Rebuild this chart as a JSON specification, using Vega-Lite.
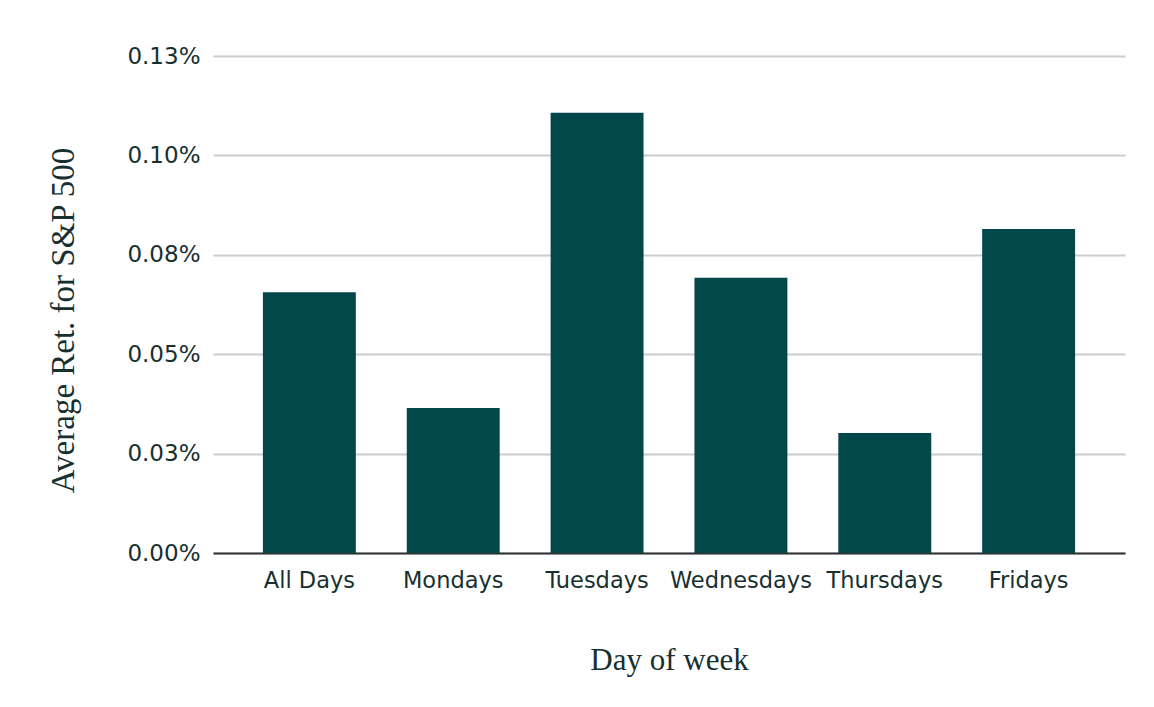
{
  "$schema": "https://vega.github.io/schema/vega-lite/v6.json",
  "autosize": {"type": "none"},
  "padding": {"left": 213, "top": 56, "right": 29, "bottom": 154},
  "width": 912,
  "height": 497,
  "background": "#ffffff",
  "data": {
    "values": [
      {"day": "All Days", "ret": 0.0656},
      {"day": "Mondays", "ret": 0.0365},
      {"day": "Tuesdays", "ret": 0.1107},
      {"day": "Wednesdays", "ret": 0.0692},
      {"day": "Thursdays", "ret": 0.0302},
      {"day": "Fridays", "ret": 0.0815}
    ]
  },
  "mark": {"type": "bar", "color": "#02484b"},
  "encoding": {
    "x": {
      "field": "day",
      "type": "nominal",
      "sort": null,
      "title": "Day of week",
      "scale": {"paddingInner": 0.354, "paddingOuter": 0.347},
      "axis": {
        "labelAngle": 0,
        "labelFont": "DejaVu Sans",
        "labelFontSize": 22.5,
        "labelColor": "#17302f",
        "labelPadding": 16,
        "ticks": false,
        "domainColor": "#333333",
        "domainWidth": 2,
        "titleFont": "Liberation Serif",
        "titleFontSize": 31,
        "titleFontWeight": "normal",
        "titleColor": "#17302f",
        "titlePadding": 54
      }
    },
    "y": {
      "field": "ret",
      "type": "quantitative",
      "title": "Average Ret. for S&P 500",
      "scale": {"domain": [0, 0.125], "nice": false},
      "axis": {
        "values": [0, 0.025, 0.05, 0.075, 0.1, 0.125],
        "labelExpr": "format(datum.value + 0.000001, '.2f') + '%'",
        "labelFont": "DejaVu Sans",
        "labelFontSize": 23,
        "labelColor": "#17302f",
        "labelPadding": 13,
        "ticks": false,
        "domain": false,
        "gridColor": "#cccccc",
        "gridWidth": 2,
        "titleFont": "Liberation Serif",
        "titleFontSize": 33,
        "titleFontWeight": "normal",
        "titleColor": "#17302f",
        "titlePadding": 46,
        "titleY": 264
      }
    }
  },
  "config": {"view": {"stroke": null}}
}
